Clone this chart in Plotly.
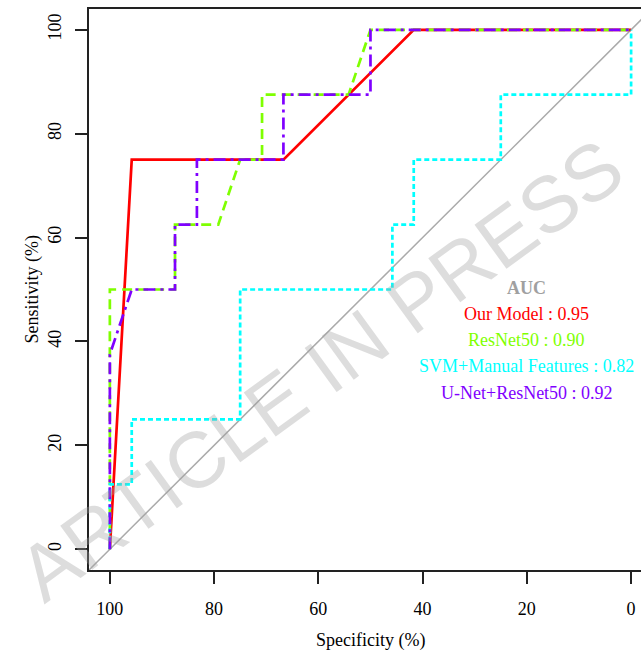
import plotly.graph_objects as go

# ROC data (specificity %, sensitivity %)
red_spec = [100, 95.8, 66.7, 41.7, 0]
red_sens = [0, 75, 75, 100, 100]

green_spec = [100, 100, 87.5, 87.5, 79.2, 75, 70.8, 70.8, 54.2, 50, 0]
green_sens = [0, 50, 50, 62.5, 62.5, 75, 75, 87.5, 87.5, 100, 100]

cyan_spec = [100, 100, 95.8, 95.8, 75, 75, 45.8, 45.8, 41.7, 41.7, 25, 25, 0, 0]
cyan_sens = [0, 12.5, 12.5, 25, 25, 50, 50, 62.5, 62.5, 75, 75, 87.5, 87.5, 100]

purple_spec = [100, 100, 95.8, 87.5, 87.5, 83.3, 83.3, 66.7, 66.7, 50, 50, 0]
purple_sens = [0, 37.5, 50, 50, 62.5, 62.5, 75, 75, 87.5, 87.5, 100, 100]

diag_spec = [104, -4]
diag_sens = [100 - s for s in diag_spec]

model_names = ["Our Model", "ResNet50", "SVM+Manual Features", "U-Net+ResNet50"]
auc_values = [0.95, 0.90, 0.82, 0.92]
colors = ["#FF0000", "#7FFF00", "#00FFFF", "#7F00FF"]

tick_vals = [100, 80, 60, 40, 20, 0]

serif = "Liberation Serif, Times New Roman, serif"

fig = go.Figure()
fig.add_trace(go.Scatter(x=diag_spec, y=diag_sens, mode="lines",
                         line=dict(color="#AAAAAA", width=1.5), showlegend=False, hoverinfo="skip"))
fig.add_trace(go.Scatter(x=red_spec, y=red_sens, mode="lines",
                         line=dict(color=colors[0], width=2.7), showlegend=False))
fig.add_trace(go.Scatter(x=green_spec, y=green_sens, mode="lines",
                         line=dict(color=colors[1], width=2.7, dash="10px,6px"), showlegend=False))
fig.add_trace(go.Scatter(x=cyan_spec, y=cyan_sens, mode="lines",
                         line=dict(color=colors[2], width=2.7, dash="5px,3px"), showlegend=False))
fig.add_trace(go.Scatter(x=purple_spec, y=purple_sens, mode="lines",
                         line=dict(color=colors[3], width=2.7, dash="12px,5px,3px,5px"), showlegend=False))

annotations = []
# AUC text block
annotations.append(dict(x=20, y=50.3, xref="x", yref="y", text="<b>AUC</b>", showarrow=False,
                        font=dict(family=serif, size=18, color="#A0A0A0")))
for i, (name, auc, col) in enumerate(zip(model_names, auc_values, colors)):
    annotations.append(dict(x=20, y=45.3 - 5.05 * i, xref="x", yref="y",
                            text=f"{name} : {auc:.2f}", showarrow=False,
                            font=dict(family=serif, size=18, color=col)))
# axis titles
annotations.append(dict(x=50, y=0, xref="x", yref="paper", yanchor="middle", yshift=-70,
                        text="Specificity (%)", showarrow=False,
                        font=dict(family=serif, size=18, color="black")))
annotations.append(dict(x=0, y=50, xref="paper", yref="y", xanchor="center", xshift=-57,
                        text="Sensitivity (%)", showarrow=False, textangle=-90,
                        font=dict(family=serif, size=18, color="black")))
# watermark
annotations.append(dict(x=59.5, y=34.6, xref="x", yref="y", text="ARTICLE IN PRESS",
                        showarrow=False, textangle=-36,
                        font=dict(family="Liberation Sans, Arial, sans-serif", size=79,
                                  color="rgba(160,160,160,0.36)")))

fig.update_layout(
    width=641, height=651,
    margin=dict(l=89, r=0, t=9, b=81),
    plot_bgcolor="white", paper_bgcolor="white",
    annotations=annotations,
    font=dict(family=serif, size=18, color="black"),
)
fig.update_xaxes(range=[104, -1.9], tickvals=tick_vals, ticktext=[str(v) for v in tick_vals],
                 showgrid=False, zeroline=False, showline=True, linecolor="#222222", linewidth=2,
                 mirror=True, ticks="outside", ticklen=12, tickwidth=2, tickcolor="#222222",
                 ticklabelstandoff=9, tickfont=dict(family=serif, size=18, color="black"))
fig.update_yaxes(range=[-4, 104], tickvals=tick_vals, ticktext=[str(v) for v in tick_vals],
                 showgrid=False, zeroline=False, showline=True, linecolor="#222222", linewidth=2,
                 mirror=False, ticks="outside", ticklen=12, tickwidth=2, tickcolor="#222222",
                 tickangle=-90, ticklabelstandoff=7,
                 tickfont=dict(family=serif, size=18, color="black"))

fig.write_html("out.html")
